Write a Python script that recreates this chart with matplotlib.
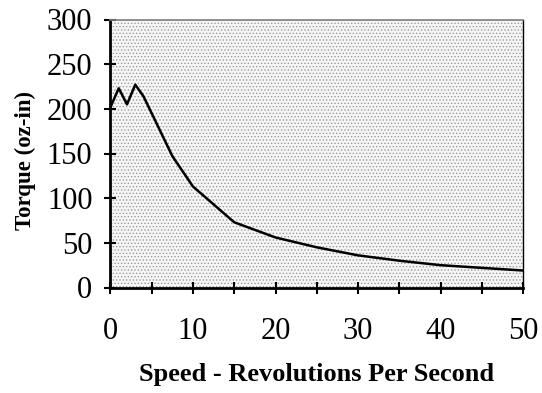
import matplotlib
matplotlib.use('Agg')
import matplotlib.pyplot as plt
from matplotlib.ticker import MultipleLocator

# === Data ===
speed = [0, 1, 2, 3, 4, 7.5, 10, 15, 20, 25, 30, 35, 40, 45, 50]
torque = [202, 223, 205, 227, 214, 147, 113, 73, 56, 45, 36, 30, 25, 22, 19]

x_ticks = [0, 10, 20, 30, 40, 50]
y_ticks = [0, 50, 100, 150, 200, 250, 300]

plt.rcParams['font.family'] = ['Liberation Serif', 'DejaVu Serif']
plt.rcParams['hatch.linewidth'] = 0.6

fig = plt.figure(figsize=(5.42, 3.93), dpi=100)
ax = fig.add_axes([110.5 / 542, 1 - 287.5 / 393, (523 - 110.5) / 542, (287.5 - 19.5) / 393])

# stippled plot area
ax.set_facecolor('#f6f6f6')
ax.fill_between([0, 50], 0, 300, facecolor='none', edgecolor='#9a9a9a',
                hatch='.....', linewidth=0, zorder=0)

ax.plot(speed, torque, color='black', linewidth=1.8, zorder=3)

ax.set_xlim(0, 50)
ax.set_ylim(0, 300)
ax.set_xticks(x_ticks)
ax.set_yticks(y_ticks)
ax.xaxis.set_minor_locator(MultipleLocator(5))
ax.tick_params(axis='both', which='both', direction='inout', length=8,
               width=1.5, labelsize=22, color='black')
ax.tick_params(axis='x', pad=17)
ax.tick_params(axis='y', pad=9)

ax.spines['left'].set_linewidth(2)
ax.spines['bottom'].set_linewidth(2)
ax.spines['right'].set_linewidth(1)
ax.spines['top'].set_linewidth(1.2)
ax.spines['top'].set_color('#808080')

ax.set_xlabel("Speed - Revolutions Per Second", fontsize=19, fontweight='bold')
ax.set_ylabel("Torque (oz-in)", fontsize=16.5, fontweight='bold')
ax.xaxis.set_label_coords(0.5, -0.28)
ax.yaxis.set_label_coords(-0.18, 0.475)

fig.savefig('out.png', dpi=100)
